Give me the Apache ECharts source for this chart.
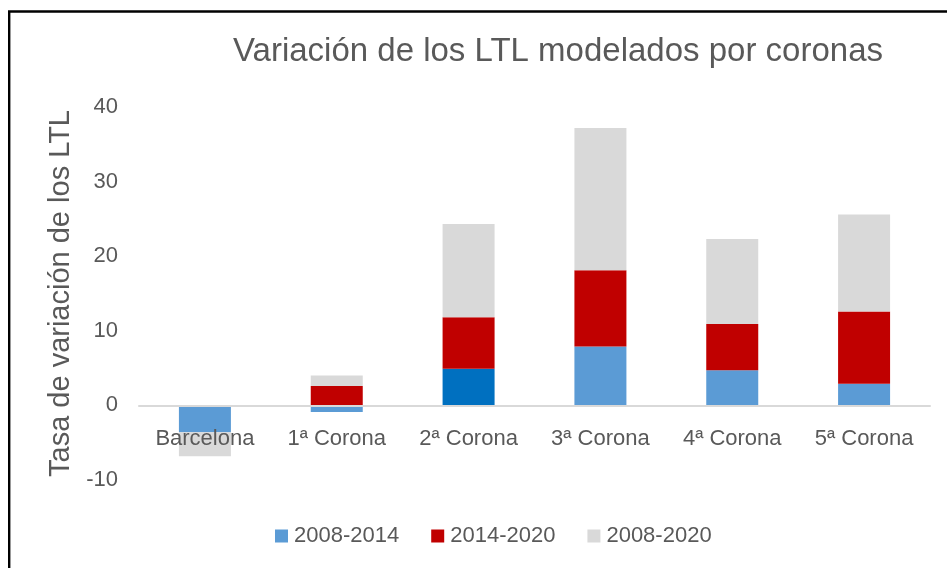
<!DOCTYPE html>
<html>
<head>
<meta charset="utf-8">
<script src="https://cdn.jsdelivr.net/npm/echarts@6/dist/echarts.min.js"></script>
<style>
	html, body { margin: 0; padding: 0; background: #fff; }
	#chart { width: 947px; height: 568px; }
</style>
</head>
<body>
<div id="chart"></div>
<script>
var categories = ['Barcelona', '1ª Corona', '2ª Corona', '3ª Corona', '4ª Corona', '5ª Corona'];
var seriesNames = ['2008-2014', '2014-2020', '2008-2020'];
var v0814 = [-3.6, -0.9, 4.9, 7.9, 4.7, 2.9];
var v1420 = [0, 2.6, 6.9, 10.2, 6.2, 9.7];
var v0820 = [-3.2, 1.4, 12.5, 19.1, 11.4, 13.0];
var yTicks = [-10, 0, 10, 20, 30, 40];

var textColor = '#595959';
var colorList = ['#5B9BD5', '#C00000', '#D9D9D9'];
var highlightIdx = 2; // 2ª Corona lleva un azul más oscuro

var myChart = echarts.init(document.getElementById('chart'));

var blueData = v0814.map(function(v, i) {
	if (i === highlightIdx) {
		return { value: v, itemStyle: { color: '#0070C0' } };
	}
	return v;
});

function barSeries(name, data, color) {
	return {
		name: name,
		type: 'bar',
		stack: 'total',
		barWidth: 52,
		itemStyle: { color: color },
		data: data
	};
}

// alto del grid y distancia del 0 al borde inferior (el eje X va en el 0)
var gridTop = 107, gridBottom = 88;
var plotH = 568 - gridTop - gridBottom;
var zeroOffset = plotH * (0 - yTicks[0]) / (yTicks[yTicks.length - 1] - yTicks[0]);

var option = {
	animation: false,
	backgroundColor: '#fff',
	textStyle: { fontFamily: 'Liberation Sans' },
	graphic: [{
		type: 'rect',
		shape: { x: 9.2, y: 11.5, width: 1000, height: 700 },
		style: { fill: 'none', stroke: '#000', lineWidth: 2.4 },
		silent: true
	}],
	title: {
		text: 'Variación de los LTL modelados por coronas',
		left: 553,
		top: 30,
		textAlign: 'center',
		textStyle: {
			color: textColor,
			fontWeight: 'normal',
			fontSize: 33,
			fontFamily: 'Liberation Sans'
		}
	},
	legend: {
		data: seriesNames,
		bottom: 16,
		left: 270,
		itemWidth: 13,
		itemHeight: 13,
		itemGap: 32,
		icon: 'rect',
		textStyle: { color: textColor, fontSize: 22, padding: [0, 0, 0, 1] }
	},
	grid: {
		left: 139,
		right: 17,
		top: gridTop,
		bottom: gridBottom
	},
	xAxis: {
		type: 'category',
		data: categories,
		offset: -zeroOffset,
		z: 5,
		axisLine: { onZero: false, lineStyle: { color: '#D9D9D9', width: 2 } },
		axisTick: { show: false },
		axisLabel: { color: textColor, fontSize: 22, margin: 23 }
	},
	yAxis: {
		type: 'value',
		min: yTicks[0],
		max: yTicks[yTicks.length - 1],
		interval: 10,
		name: 'Tasa de variación de los LTL',
		nameLocation: 'middle',
		nameRotate: 90,
		nameGap: 62,
		nameTextStyle: { color: textColor, fontSize: 29 },
		axisLine: { show: false },
		axisTick: { show: false },
		splitLine: { show: false },
		axisLabel: { color: textColor, fontSize: 22, margin: 21 }
	},
	series: [
		barSeries(seriesNames[0], blueData, colorList[0]),
		barSeries(seriesNames[1], v1420, colorList[1]),
		barSeries(seriesNames[2], v0820, colorList[2])
	]
};

myChart.setOption(option);
window.onresize = function() {
	myChart.resize();
};
</script>
</body>
</html>
